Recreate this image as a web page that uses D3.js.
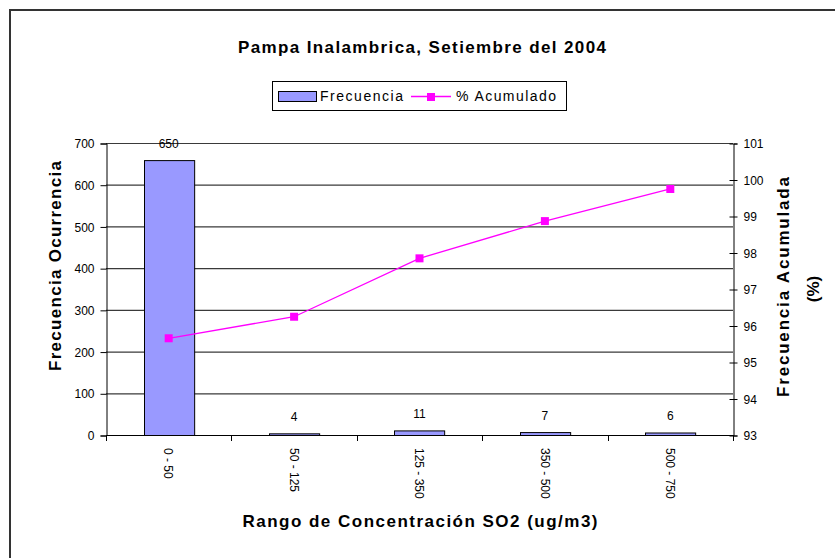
<!DOCTYPE html>
<html>
<head>
<meta charset="utf-8">
<script src="https://cdn.jsdelivr.net/npm/d3@7"></script>
<style>
  body { margin: 0; background: #fff; }
  text { font-family: "Liberation Sans", Arial, sans-serif; fill: #000; }
</style>
</head>
<body>
<svg id="chart"></svg>
<script>
// data
let categories = ["0 - 50", "50 - 125", "125 - 350", "350 - 500", "500 - 750"];
let frecuencia = [659, 4, 11, 7, 6];
let barLabels = ["650", "4", "11", "7", "6"];
let acumulado = [95.65, 96.24, 97.84, 98.86, 99.74];
let leftTicks = [0, 100, 200, 300, 400, 500, 600, 700];
let rightTicks = [93, 94, 95, 96, 97, 98, 99, 100, 101];

let config = { svg: {}, plot: {} };
config.svg.width = 835;
config.svg.height = 558;
config.plot.left = 106;
config.plot.right = 733;
config.plot.top = 143;
config.plot.bottom = 435;

let svg = d3.select("#chart")
  .attr("width", config.svg.width)
  .attr("height", config.svg.height);

// outer chart border (runs off the right/bottom of the window)
svg.append("rect")
  .attr("x", 10).attr("y", 10)
  .attr("width", 840).attr("height", 570)
  .attr("fill", "none")
  .attr("stroke", "#333")
  .attr("stroke-width", 2);

let x = d3.scaleBand()
  .domain(categories)
  .range([config.plot.left, config.plot.right])
  .paddingInner(0.6)
  .paddingOuter(0.3);

let y = d3.scaleLinear()
  .domain([0, 700])
  .range([config.plot.bottom, config.plot.top]);

let y2 = d3.scaleLinear()
  .domain([93, 101])
  .range([config.plot.bottom, config.plot.top]);

// gridlines
svg.append("g")
  .selectAll("line")
  .data(leftTicks.slice(1))
  .enter()
  .append("line")
  .attr("x1", config.plot.left)
  .attr("x2", config.plot.right)
  .attr("y1", d => y(d) + 0.5)
  .attr("y2", d => y(d) + 0.5)
  .attr("stroke", "#3a3a3a")
  .attr("stroke-width", 1.2);

// left axis
let yaxis = d3.axisLeft(y)
  .tickValues(leftTicks)
  .tickSize(6)
  .tickPadding(6);

let gy = svg.append("g")
  .attr("transform", `translate(${config.plot.left + 0.5},0.5)`)
  .call(yaxis);
gy.select(".domain").attr("stroke", "#000");
gy.selectAll("text").style("font-size", "12px").attr("dy", "0.35em");

// right axis, ticks crossing the line
let yaxis2 = d3.axisRight(y2)
  .tickValues(rightTicks)
  .tickSize(4)
  .tickPadding(6);

let gy2 = svg.append("g")
  .attr("transform", `translate(${config.plot.right + 0.5},0.5)`)
  .call(yaxis2);
gy2.select(".domain").attr("stroke", "#000");
gy2.selectAll(".tick line").attr("x1", -4);
gy2.selectAll("text").style("font-size", "12px").attr("dy", "0.35em");

// bottom axis: ticks between categories, labels rotated
let step = x.step();
let boundaries = d3.range(categories.length + 1).map(i => config.plot.left + i * step);

svg.append("line")
  .attr("x1", config.plot.left).attr("x2", config.plot.right)
  .attr("y1", config.plot.bottom + 0.5).attr("y2", config.plot.bottom + 0.5)
  .attr("stroke", "#000");

svg.append("g")
  .selectAll("line")
  .data(boundaries)
  .enter()
  .append("line")
  .attr("x1", d => Math.round(d) + 0.5)
  .attr("x2", d => Math.round(d) + 0.5)
  .attr("y1", config.plot.bottom)
  .attr("y2", config.plot.bottom + 6)
  .attr("stroke", "#000");

svg.append("g")
  .selectAll("text")
  .data(categories)
  .enter()
  .append("text")
  .attr("transform", d => `translate(${x(d) + x.bandwidth() / 2},${config.plot.bottom + 13}) rotate(90)`)
  .attr("dy", "0.35em")
  .style("font-size", "12px")
  .style("text-anchor", "start")
  .text(d => d);

// bars
svg.append("g")
  .selectAll("rect")
  .data(frecuencia)
  .enter()
  .append("rect")
  .attr("x", (d, i) => Math.round(x(categories[i])) + 0.5)
  .attr("y", d => y(d) + 0.5)
  .attr("width", x.bandwidth())
  .attr("height", d => config.plot.bottom - y(d))
  .attr("fill", "#9999ff")
  .attr("stroke", "#000")
  .attr("stroke-width", 1);

// bar value labels
svg.append("g")
  .selectAll("text")
  .data(frecuencia)
  .enter()
  .append("text")
  .attr("x", (d, i) => x(categories[i]) + x.bandwidth() / 2)
  .attr("y", d => y(d) - 12)
  .style("font-size", "12px")
  .style("text-anchor", "middle")
  .text((d, i) => barLabels[i]);

// cumulative line
let line = d3.line()
  .x((d, i) => x(categories[i]) + x.bandwidth() / 2)
  .y(d => y2(d));

svg.append("path")
  .datum(acumulado)
  .attr("d", line)
  .attr("fill", "none")
  .attr("stroke", "#ff00ff")
  .attr("stroke-width", 1.3);

svg.append("g")
  .selectAll("rect")
  .data(acumulado)
  .enter()
  .append("rect")
  .attr("x", (d, i) => x(categories[i]) + x.bandwidth() / 2 - 4)
  .attr("y", d => y2(d) - 4)
  .attr("width", 8)
  .attr("height", 8)
  .attr("fill", "#ff00ff");

// title
svg.append("text")
  .attr("x", 422)
  .attr("y", 53)
  .style("text-anchor", "middle")
  .style("font-weight", "bold")
  .style("font-size", "17px")
  .attr("textLength", 368)
  .attr("lengthAdjust", "spacing")
  .text("Pampa Inalambrica, Setiembre del 2004");

// legend
let legend = svg.append("g").attr("transform", "translate(272,81)");
legend.append("rect")
  .attr("x", 0.5).attr("y", 0.5)
  .attr("width", 294).attr("height", 29)
  .attr("fill", "#fff")
  .attr("stroke", "#000");
legend.append("rect")
  .attr("x", 6.5).attr("y", 10.5)
  .attr("width", 38).attr("height", 10)
  .attr("fill", "#9999ff")
  .attr("stroke", "#000");
legend.append("text")
  .attr("x", 48).attr("y", 20)
  .style("font-size", "14px")
  .attr("textLength", 83)
  .attr("lengthAdjust", "spacing")
  .text("Frecuencia");
legend.append("line")
  .attr("x1", 139).attr("x2", 179)
  .attr("y1", 15.5).attr("y2", 15.5)
  .attr("stroke", "#ff00ff")
  .attr("stroke-width", 1.3);
legend.append("rect")
  .attr("x", 155).attr("y", 12)
  .attr("width", 8).attr("height", 8)
  .attr("fill", "#ff00ff");
legend.append("text")
  .attr("x", 184).attr("y", 20)
  .style("font-size", "14px")
  .attr("textLength", 100)
  .attr("lengthAdjust", "spacing")
  .text("% Acumulado");

// axis titles
svg.append("text")
  .attr("transform", "translate(61,266) rotate(-90)")
  .style("text-anchor", "middle")
  .style("font-weight", "bold")
  .style("font-size", "17px")
  .attr("textLength", 210)
  .attr("lengthAdjust", "spacing")
  .text("Frecuencia Ocurrencia");

svg.append("text")
  .attr("transform", "translate(789,287) rotate(-90)")
  .style("text-anchor", "middle")
  .style("font-weight", "bold")
  .style("font-size", "17px")
  .attr("textLength", 220)
  .attr("lengthAdjust", "spacing")
  .text("Frecuencia Acumulada");

svg.append("text")
  .attr("transform", "translate(819,289) rotate(-90)")
  .style("text-anchor", "middle")
  .style("font-weight", "bold")
  .style("font-size", "17px")
  .text("(%)");

svg.append("text")
  .attr("x", 420)
  .attr("y", 527)
  .style("text-anchor", "middle")
  .style("font-weight", "bold")
  .style("font-size", "17px")
  .attr("textLength", 355)
  .attr("lengthAdjust", "spacing")
  .text("Rango de Concentración SO2 (ug/m3)");
</script>
</body>
</html>
